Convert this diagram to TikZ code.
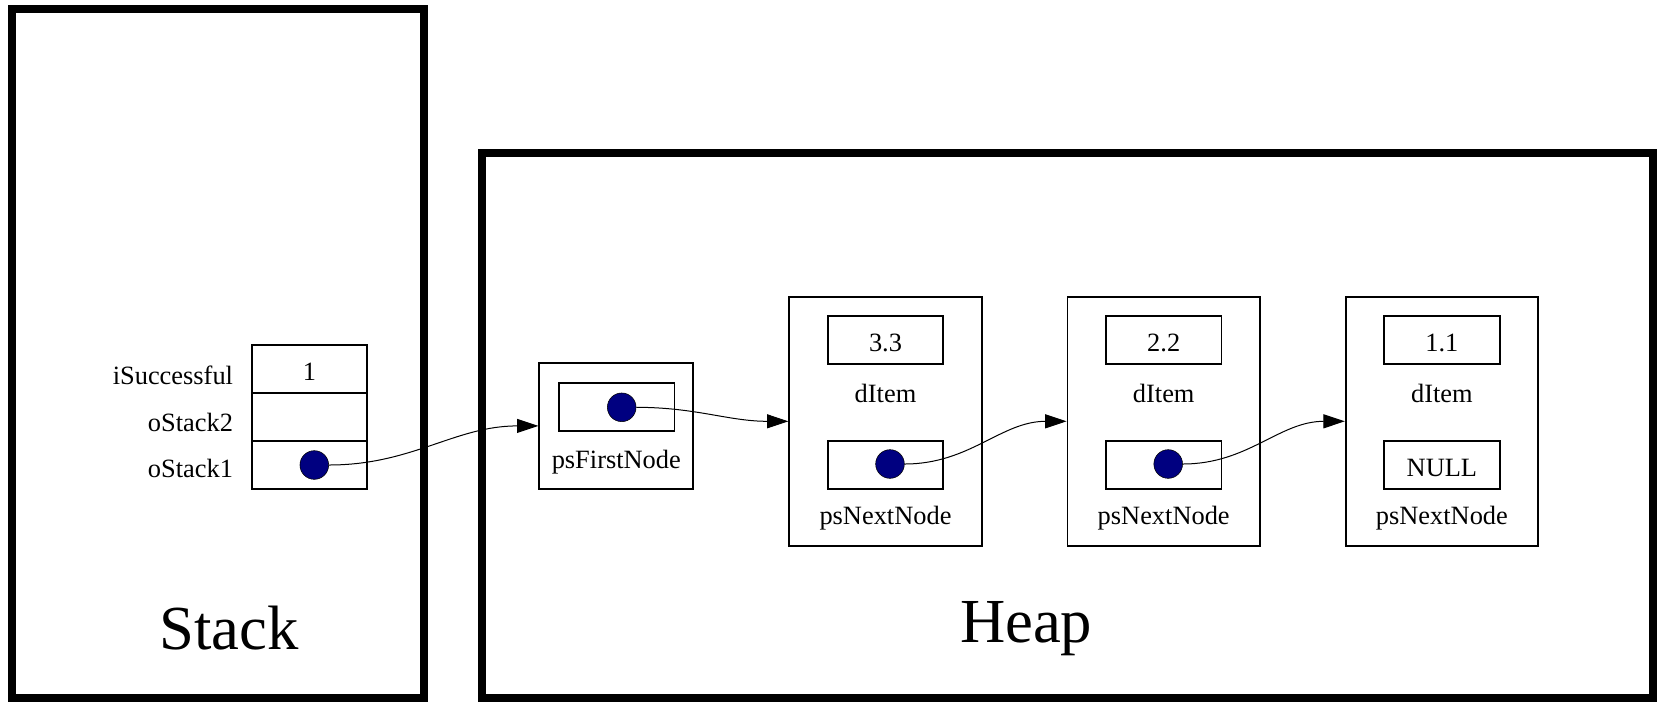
\documentclass[tikz,border=0pt]{standalone}
\usepackage{fontspec}
\setmainfont{Liberation Serif}
\usetikzlibrary{arrows.meta}
\definecolor{navyblue}{RGB}{0,0,128}
\begin{document}
\begin{tikzpicture}[x=0.75pt,y=-0.75pt,
 frame/.style={draw, line width=6pt, inner sep=0pt},
 cell/.style={draw, line width=1.4pt, minimum width=86.7pt, minimum height=36pt, inner sep=0pt},
 outerbox/.style={draw, line width=1.4pt, inner sep=0pt},
 ptr/.style={circle, draw=black, line width=0.4pt, fill=navyblue, minimum size=21.5pt, inner sep=0pt},
 txt/.style={font=\fontsize{19.8}{24}\selectfont, inner sep=0pt, anchor=base},
 lbl/.style={font=\fontsize{19.8}{24}\selectfont, inner sep=0pt, anchor=base east},
 big/.style={font=\fontsize{47}{56}\selectfont, inner sep=0pt, anchor=base},
 link/.style={-{Triangle[length=16pt,width=10.5pt]}, line width=0.75pt}
]
\useasboundingbox (0,0) rectangle (1659,701);

% frames
\node[frame, minimum width=309pt, minimum height=517.1pt] (stackframe) at (218,353.75) {};
\node[frame, minimum width=877.9pt, minimum height=409.1pt] (heapframe) at (1067.75,425.75) {};
\node[big] (stacklbl) at (229.2,649.5) {Stack};
\node[big] (heaplbl) at (1026.2,642.3) {Heap};

% stack table
\node[cell] (c1) at (309.5,368.7) {};
\node[cell] (c2) at (309.5,416.5) {};
\node[cell] (c3) at (309.5,464.9) {};
\node[txt] (v1) at (309.5,380) {1};
\node[lbl] (l1) at (233.3,384.3) {iSuccessful};
\node[lbl] (l2) at (233.3,431.7) {oStack2};
\node[lbl] (l3) at (233.3,477.3) {oStack1};
\node[ptr] (s1) at (314.3,465) {};

% psFirstNode
\node[outerbox, minimum width=115.5pt, minimum height=94.7pt] (pfo) at (616.3,425.9) {};
\node[cell] (pfi) at (616.7,407.2) {};
\node[ptr] (pfc) at (621.7,407.3) {};
\node[txt] (pfl) at (616.3,468.3) {psFirstNode};

% list nodes
\node[outerbox, minimum width=144.3pt, minimum height=187pt] (n1) at (885.5,421.3) {};
\node[cell] (n1v) at (885.5,340) {};
\node[txt] (n1vt) at (885.5,351.7) {3.3};
\node[txt] (n1d) at (885.5,402) {dItem};
\node[cell] (n1p) at (885.5,465) {};
\node[ptr] (n1c) at (890,464) {};
\node[txt] (n1l) at (885.5,524.5) {psNextNode};

\node[outerbox, minimum width=144.3pt, minimum height=187pt] (n2) at (1163.7,421.3) {};
\node[cell] (n2v) at (1163.7,340) {};
\node[txt] (n2vt) at (1163.7,351.7) {2.2};
\node[txt] (n2d) at (1163.7,402) {dItem};
\node[cell] (n2p) at (1163.7,465) {};
\node[ptr] (n2c) at (1168.2,464) {};
\node[txt] (n2l) at (1163.7,524.5) {psNextNode};

\node[outerbox, minimum width=144.3pt, minimum height=187pt] (n3) at (1441.9,421.3) {};
\node[cell] (n3v) at (1441.9,340) {};
\node[txt] (n3vt) at (1441.9,351.7) {1.1};
\node[txt] (n3d) at (1441.9,402) {dItem};
\node[cell] (n3p) at (1441.9,465) {};
\node[txt] (n3pt) at (1441.9,476.7) {NULL};
\node[txt] (n3l) at (1441.9,524.5) {psNextNode};

% links
\draw[link] (s1.east) to[out=0,in=180] (pfo.west);
\draw[link] (pfc.east) to[out=0,in=180] (n1.west);
\draw[link] (n1c.east) to[out=0,in=180] (n2.west);
\draw[link] (n2c.east) to[out=0,in=180] (n3.west);
\end{tikzpicture}
\end{document}
